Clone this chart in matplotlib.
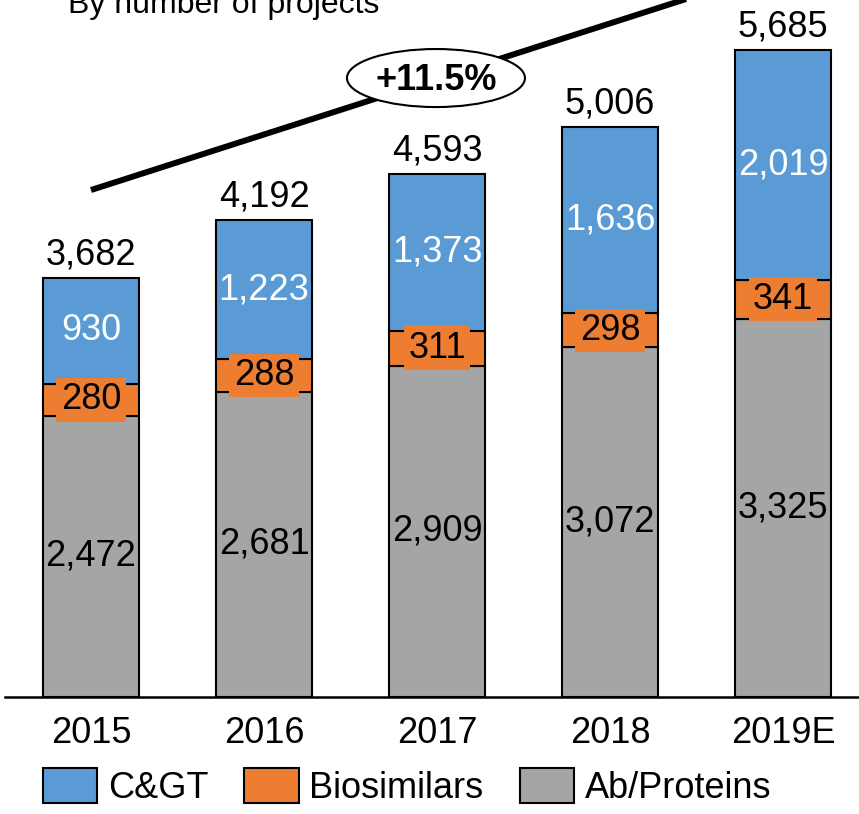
import matplotlib
matplotlib.use("Agg")
import matplotlib.pyplot as plt
from matplotlib.patches import Ellipse, Patch
import numpy as np

plt.rcParams['font.family'] = ['Liberation Sans', 'DejaVu Sans']

years = ["2015", "2016", "2017", "2018", "2019E"]
ab_proteins = [2472, 2681, 2909, 3072, 3325]
biosimilars = [280, 288, 311, 298, 341]
cgt = [930, 1223, 1373, 1636, 2019]
totals = [3682, 4192, 4593, 5006, 5685]
cagr_label = "+11.5%"
subtitle = "By number of projects"

c_blue = "#5B9BD5"
c_orange = "#ED7D31"
c_gray = "#A5A5A5"

W, H = 859, 814
fig = plt.figure(figsize=(W / 100, H / 100), dpi=100)
ax = fig.add_axes([5 / W, (H - 697) / H, (W - 5) / W, 697 / H])

x = np.arange(len(years))
bw = 0.555
fs = 26

b1 = ax.bar(x, ab_proteins, bw, color=c_gray, edgecolor="black", linewidth=1.5, zorder=2)
bot2 = np.array(ab_proteins)
b2 = ax.bar(x, biosimilars, bw, bottom=bot2, color=c_orange, edgecolor="black", linewidth=1.5, zorder=2)
bot3 = bot2 + np.array(biosimilars)
b3 = ax.bar(x, cgt, bw, bottom=bot3, color=c_blue, edgecolor="black", linewidth=1.5, zorder=2)

for i in range(len(years)):
    ax.text(x[i], ab_proteins[i] / 2, f"{ab_proteins[i]:,}", ha="center", va="center",
            fontsize=fs, color="black", zorder=4)
    ax.text(x[i], bot2[i] + biosimilars[i] / 2, f"{biosimilars[i]:,}", ha="center", va="center",
            fontsize=fs, color="black", zorder=4,
            bbox=dict(boxstyle="square,pad=0.12", facecolor=c_orange, edgecolor="none"))
    ax.text(x[i], bot3[i] + cgt[i] / 2, f"{cgt[i]:,}", ha="center", va="center",
            fontsize=fs, color="white", zorder=4)
    ax.annotate(f"{totals[i]:,}", (x[i], totals[i]), xytext=(0, 10), textcoords="offset points",
                ha="center", va="baseline", fontsize=fs, color="black", zorder=4)

ymax = 697 / 0.1138
ax.set_xlim(-86 / 173, (W - 91) / 173)
ax.set_ylim(0, ymax)

# trend arrow line
ax.plot([0, 3.7], [4455, 4455 + 488 * 3.7], color="black", linewidth=4.3, zorder=3,
        solid_capstyle="butt")
ell = Ellipse((1.994, 5439), 1.029, 510, facecolor="white", edgecolor="black", linewidth=1.5, zorder=5)
ax.add_patch(ell)
ax.text(1.994, 5334, cagr_label, ha="center", va="baseline", fontsize=fs, fontweight="bold", zorder=6)

for s in ["top", "right", "left"]:
    ax.spines[s].set_visible(False)
ax.spines["bottom"].set_linewidth(1.8)
ax.set_yticks([])
ax.set_xticks(x)
ax.set_xticklabels(years, fontsize=fs)
ax.tick_params(axis="x", length=0, pad=13.5)

fig.text(68 / W, 1 - 13 / H, subtitle, fontsize=23, ha="left", va="baseline")

handles = [Patch(facecolor=c_blue, edgecolor="black", linewidth=1.5),
           Patch(facecolor=c_orange, edgecolor="black", linewidth=1.5),
           Patch(facecolor=c_gray, edgecolor="black", linewidth=1.5)]
fig.legend(handles, ["C&GT", "Biosimilars", "Ab/Proteins"], loc="center",
           bbox_to_anchor=(407 / W, 1 - 787 / H), ncol=3, frameon=False, fontsize=fs,
           handlelength=1.5, handleheight=1.12, handletextpad=0.3, columnspacing=1.0,
           borderaxespad=0, borderpad=0)

fig.savefig("out.png", dpi=100)
